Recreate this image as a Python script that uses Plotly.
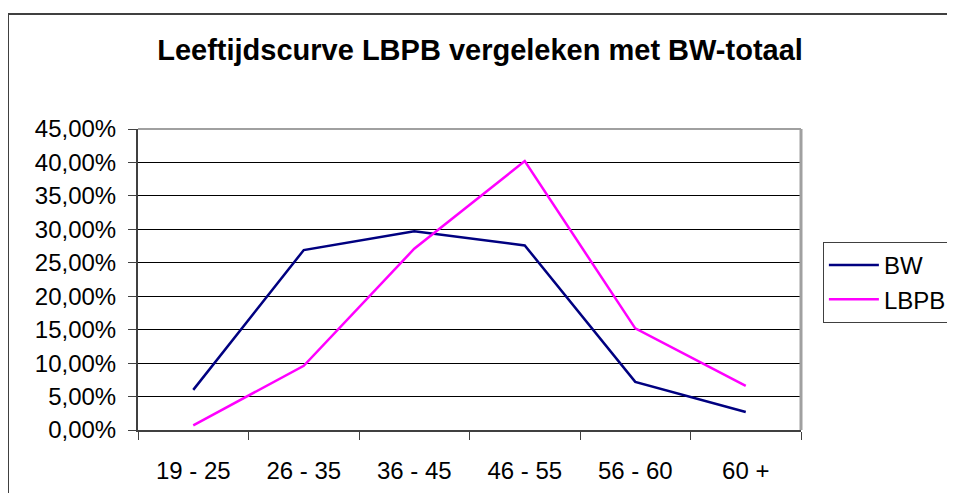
import plotly.graph_objects as go

leeftijd = ["19 - 25", "26 - 35", "36 - 45", "46 - 55", "56 - 60", "60 +"]
bw = [0.060, 0.269, 0.297, 0.276, 0.072, 0.027]
lbpb = [0.007, 0.096, 0.271, 0.402, 0.152, 0.066]

fig = go.Figure()

fig.add_trace(go.Scatter(x=leeftijd, y=bw, mode="lines", name="BW",
                         line=dict(color="#000080", width=2.5)))
fig.add_trace(go.Scatter(x=leeftijd, y=lbpb, mode="lines", name="LBPB",
                         line=dict(color="#FF00FF", width=2.5)))

# pagina heeft 8px body-marge rondom, figuur kleiner zodat er niet gescrold wordt
fig.update_layout(
    width=939, height=485,
    margin=dict(l=130, r=146, t=121, b=63, autoexpand=False),
    paper_bgcolor="white",
    plot_bgcolor="white",
    separators=",.",
    font=dict(family="Liberation Sans, Arial", size=24, color="black"),
    title=dict(text="<b>Leeftijdscurve LBPB vergeleken met BW-totaal</b>",
               x=0.5027, xanchor="center", y=0.9134, yanchor="middle",
               font=dict(size=29, color="black")),
    legend=dict(x=1.033, y=0.625, xanchor="left", yanchor="top",
                bordercolor="#404040", borderwidth=1, bgcolor="white",
                font=dict(size=24), itemwidth=50),
    showlegend=True,
)

fig.update_xaxes(
    type="category",
    range=[-0.5, 5.5],
    tickson="boundaries",
    ticks="outside", ticklen=8, tickcolor="#404040", tickwidth=1,
    showline=True, linecolor="#404040", linewidth=2,
    showgrid=False, zeroline=False,
    ticklabelstandoff=18,
)

fig.update_yaxes(
    range=[0, 0.45],
    tickvals=[i * 0.05 for i in range(10)],
    tickformat=".2%",
    ticks="outside", ticklen=8, tickcolor="#404040", tickwidth=1,
    showline=True, linecolor="#404040", linewidth=2,
    showgrid=True, gridcolor="black", gridwidth=1,
    zeroline=False,
    ticklabelstandoff=7,
)

# grijze rand van het plotvlak (boven en rechts)
fig.add_shape(type="line", xref="paper", yref="paper", x0=0, x1=1, y0=1, y1=1,
              line=dict(color="#a0a0a0", width=2), layer="above")
fig.add_shape(type="line", xref="paper", yref="paper", x0=1, x1=1, y0=0, y1=1,
              line=dict(color="#a0a0a0", width=3), layer="above")

# rand om de hele grafiek: alleen links en boven zichtbaar
rand_x0 = (0 - 130) / 663
rand_top = 1 + (121 - 6) / 301
fig.add_shape(type="line", xref="paper", yref="paper",
              x0=rand_x0, x1=rand_x0, y0=(422 - 520) / 301, y1=rand_top,
              line=dict(color="#404040", width=2))
fig.add_shape(type="line", xref="paper", yref="paper",
              x0=rand_x0, x1=(980 - 130) / 663, y0=rand_top, y1=rand_top,
              line=dict(color="#404040", width=2))

fig.write_html("out.html")
